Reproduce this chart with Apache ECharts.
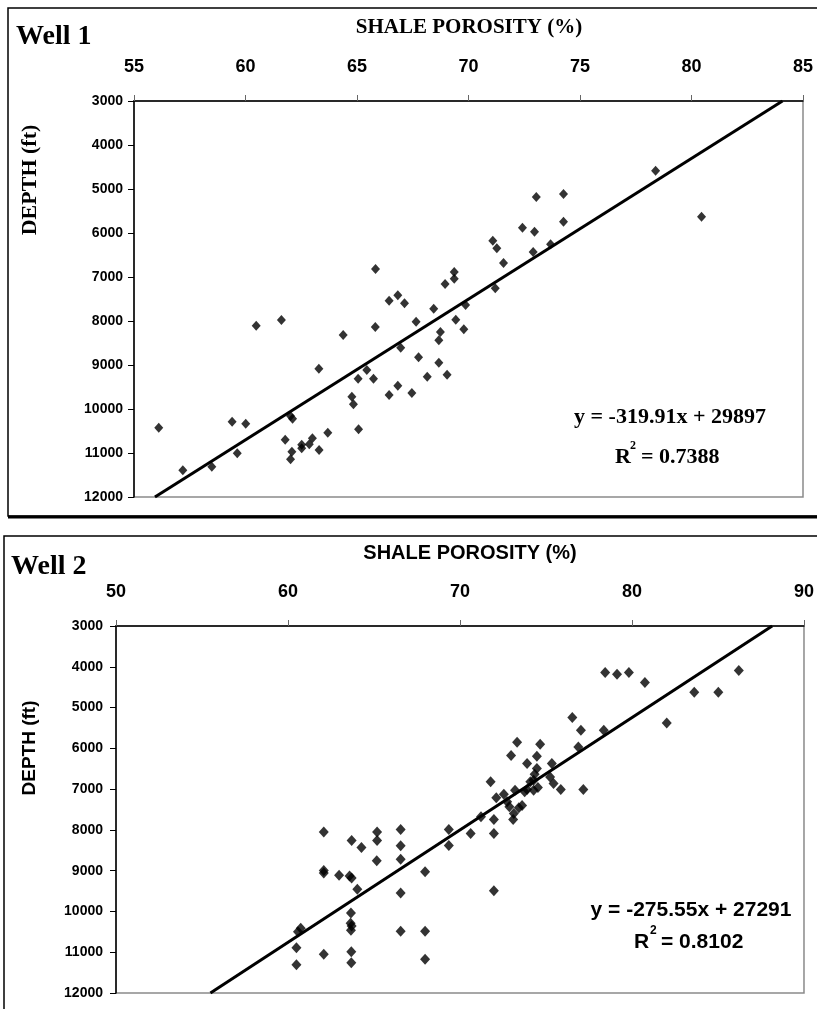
<!DOCTYPE html>
<html>
<head>
<meta charset="utf-8">
<script src="https://cdn.jsdelivr.net/npm/echarts@6/dist/echarts.min.js"></script>
<style>
html,body{margin:0;padding:0;background:#fff;}
#main{width:817px;height:1009px;}
</style>
</head>
<body>
<div id="main"></div>
<script>
// Well 1 - shale porosity (%) vs depth (ft)
var well1Porosity = [56.11,57.19,58.49,59.40,59.63,60.01,60.48,61.61,61.78,62.02,62.08,62.02,62.11,62.52,62.52,62.86,63.00,63.30,63.29,63.69,
    64.38,64.77,64.84,65.05,65.07,65.44,65.74,65.83,65.82,66.44,66.44,66.83,66.83,66.96,67.13,67.46,67.65,67.76,68.15,68.44,
    68.67,68.74,68.67,69.04,68.95,69.36,69.36,69.43,69.79,69.87,71.20,71.09,71.27,71.57,72.42,73.04,72.96,72.90,73.68,74.26,
    74.26,78.39,80.45];
var well1Depth = [10425,11393,11311,10289,11007,10334,8107,7977,10698,11143,10970,10159,10220,10893,10811,10802,10666,10932,9084,10539,
    8318,9720,9893,9311,10461,9114,9311,6818,8136,7539,9682,7416,9470,8607,7598,9636,8016,8825,9266,7720,
    8948,8250,8439,9220,7159,7039,6886,7970,8189,7636,7257,6175,6348,6682,5880,5182,5970,6432,6257,5114,
    5743,4584,5630];
var well1Trend = [[55.94,12000],[84.08,3000]];
var well1XTicks = [55,60,65,70,75,80,85];

// Well 2
var well2Porosity = [62.08,63.70,64.27,65.18,65.18,66.55,66.55,66.55,65.16,62.08,62.08,62.97,63.58,63.70,64.03,66.55,67.97,69.35,69.35,70.62,
    63.66,63.64,63.70,63.66,60.74,60.58,60.49,60.49,62.08,63.68,63.68,66.55,67.97,67.97,
    71.97,71.97,71.97,71.22,71.78,72.11,72.55,72.74,72.87,73.13,73.09,73.42,73.61,72.97,73.32,73.90,73.90,74.28,74.28,74.47,
    74.66,74.47,74.34,74.53,75.34,75.24,75.44,75.86,77.17,76.88,76.53,77.03,78.36,78.44,79.13,79.82,80.75,82.02,83.62,85.02,
    86.21,74.09,73.76,73.20];
var well2Depth = [8054,8258,8429,8054,8258,7988,8390,8723,8758,8993,9060,9115,9132,9181,9458,9549,9027,7988,8380,8086,
    10039,10291,10357,10463,10414,10497,10889,11306,11051,10987,11257,10487,10487,11173,
    8086,7743,9493,7680,6822,7214,7123,7312,7435,7596,7743,7459,7400,6175,5849,6371,7008,6780,7025,6192,
    5898,6494,6633,6959,6371,6700,6861,7008,7008,5965,5244,5555,5555,4142,4183,4142,4387,5377,4624,4624,
    4093,6822,7067,7030];
var well2Trend = [[55.49,12000],[88.15,3000]];
var well2XTicks = [50,60,70,80,90];

var depthTicks = [3000,4000,5000,6000,7000,8000,9000,10000,11000,12000];

var SERIF = '"Liberation Serif","Times New Roman",serif';
var SANS = '"Liberation Sans",Arial,sans-serif';
var NARROW = '"Liberation Sans Narrow","Liberation Sans",Arial,sans-serif';

window.onload = function () {
    function zip(a, b) {
        var out = [];
        for (let i = 0; i < a.length; i++) { out.push([a[i], b[i]]); }
        return out;
    }
    function xAxisOf(idx, ticks, font, size) {
        return {
            type: 'value', gridIndex: idx, position: 'top',
            min: ticks[0], max: ticks[ticks.length - 1], interval: ticks[1] - ticks[0],
            axisLine: { show: true, onZero: false, lineStyle: { color: '#000', width: 1.5 } },
            axisTick: { show: true, inside: false, length: 6, lineStyle: { color: '#666', width: 1 } },
            axisLabel: { margin: 25, color: '#000', fontWeight: 'bold', fontSize: size, fontFamily: font },
            splitLine: { show: false }
        };
    }
    function yAxisOf(idx, size, margin) {
        return {
            type: 'value', gridIndex: idx, inverse: true,
            min: depthTicks[0], max: depthTicks[depthTicks.length - 1], interval: depthTicks[1] - depthTicks[0],
            axisLine: { show: true, onZero: false, lineStyle: { color: '#000', width: 1.5 } },
            axisTick: { show: true, inside: false, length: 6, lineStyle: { color: '#000', width: 1 } },
            axisLabel: { margin: margin, color: '#000', fontWeight: 'bold', fontSize: size, fontFamily: SANS,
                formatter: function (v) { return String(v); } },
            splitLine: { show: false }
        };
    }

    var chart = echarts.init(document.getElementById('main'), null, { renderer: 'canvas' });
    var option = {
        animation: false,
        backgroundColor: '#fff',
        grid: [
            { left: 134, top: 101, width: 669, height: 396, show: true, borderColor: '#8a8a8a', borderWidth: 1.5, backgroundColor: 'transparent' },
            { left: 116, top: 626, width: 693, height: 367, show: true, borderColor: '#8a8a8a', borderWidth: 1.5, backgroundColor: 'transparent' }
        ],
        xAxis: [
            xAxisOf(0, well1XTicks, NARROW, 18),
            xAxisOf(1, well2XTicks, SANS, 18)
        ],
        yAxis: [
            yAxisOf(0, 14, 11),
            yAxisOf(1, 14, 13)
        ],
        series: [
            { type: 'scatter', xAxisIndex: 0, yAxisIndex: 0, data: zip(well1Porosity, well1Depth),
              symbol: 'diamond', symbolSize: [9, 10], itemStyle: { color: '#000' } },
            { type: 'line', xAxisIndex: 0, yAxisIndex: 0, data: well1Trend, showSymbol: false, symbol: 'none',
              lineStyle: { color: '#000', width: 3 } },
            { type: 'scatter', xAxisIndex: 1, yAxisIndex: 1, data: zip(well2Porosity, well2Depth),
              symbol: 'diamond', symbolSize: [10, 11], itemStyle: { color: '#000' } },
            { type: 'line', xAxisIndex: 1, yAxisIndex: 1, data: well2Trend, showSymbol: false, symbol: 'none',
              lineStyle: { color: '#000', width: 3 } }
        ],
        graphic: [
            // frames round each panel
            { type: 'polyline', shape: { points: [[817, 8], [8, 8], [8, 516], [817, 516]] }, style: { stroke: '#000', lineWidth: 1.5, fill: null } },
            { type: 'line', shape: { x1: 8, y1: 517, x2: 817, y2: 517 }, style: { stroke: '#000', lineWidth: 3 } },
            { type: 'polyline', shape: { points: [[817, 536], [4, 536], [4, 1009]] }, style: { stroke: '#000', lineWidth: 1.5, fill: null } },

            // well 1 texts
            { type: 'text', x: 16, y: 37, style: { text: 'Well 1', font: 'bold 28px ' + SERIF, fill: '#000', verticalAlign: 'middle' } },
            { type: 'text', x: 469, y: 28, style: { text: 'SHALE POROSITY (%)', font: 'bold 21px ' + SERIF, fill: '#000', align: 'center', verticalAlign: 'middle' } },
            { type: 'text', x: 30, y: 180, rotation: Math.PI / 2, style: { text: 'DEPTH (ft)', font: 'bold 22px ' + SERIF, fill: '#000', align: 'center', verticalAlign: 'middle' } },
            { type: 'text', x: 670, y: 417, style: { text: 'y = -319.91x + 29897', font: 'bold 22px ' + SERIF, fill: '#000', align: 'center', verticalAlign: 'middle' } },
            { type: 'text', x: 615, y: 457, style: { text: 'R', font: 'bold 22px ' + SERIF, fill: '#000', verticalAlign: 'middle' } },
            { type: 'text', x: 630, y: 446, style: { text: '2', font: 'bold 12px ' + SERIF, fill: '#000', verticalAlign: 'middle' } },
            { type: 'text', x: 641, y: 457, style: { text: '= 0.7388', font: 'bold 22px ' + SERIF, fill: '#000', verticalAlign: 'middle' } },

            // well 2 texts
            { type: 'text', x: 11, y: 567, style: { text: 'Well 2', font: 'bold 28px ' + SERIF, fill: '#000', verticalAlign: 'middle' } },
            { type: 'text', x: 470, y: 553, style: { text: 'SHALE POROSITY (%)', font: 'bold 20px ' + SANS, fill: '#000', align: 'center', verticalAlign: 'middle' } },
            { type: 'text', x: 30, y: 748, rotation: Math.PI / 2, style: { text: 'DEPTH (ft)', font: 'bold 19px ' + SANS, fill: '#000', align: 'center', verticalAlign: 'middle' } },
            { type: 'text', x: 691, y: 910, style: { text: 'y = -275.55x + 27291', font: 'bold 21px ' + SANS, fill: '#000', align: 'center', verticalAlign: 'middle' } },
            { type: 'text', x: 634, y: 942, style: { text: 'R', font: 'bold 21px ' + SANS, fill: '#000', verticalAlign: 'middle' } },
            { type: 'text', x: 650, y: 931, style: { text: '2', font: 'bold 12px ' + SANS, fill: '#000', verticalAlign: 'middle' } },
            { type: 'text', x: 661, y: 942, style: { text: '= 0.8102', font: 'bold 21px ' + SANS, fill: '#000', verticalAlign: 'middle' } }
        ]
    };
    chart.setOption(option);
};
</script>
</body>
</html>
